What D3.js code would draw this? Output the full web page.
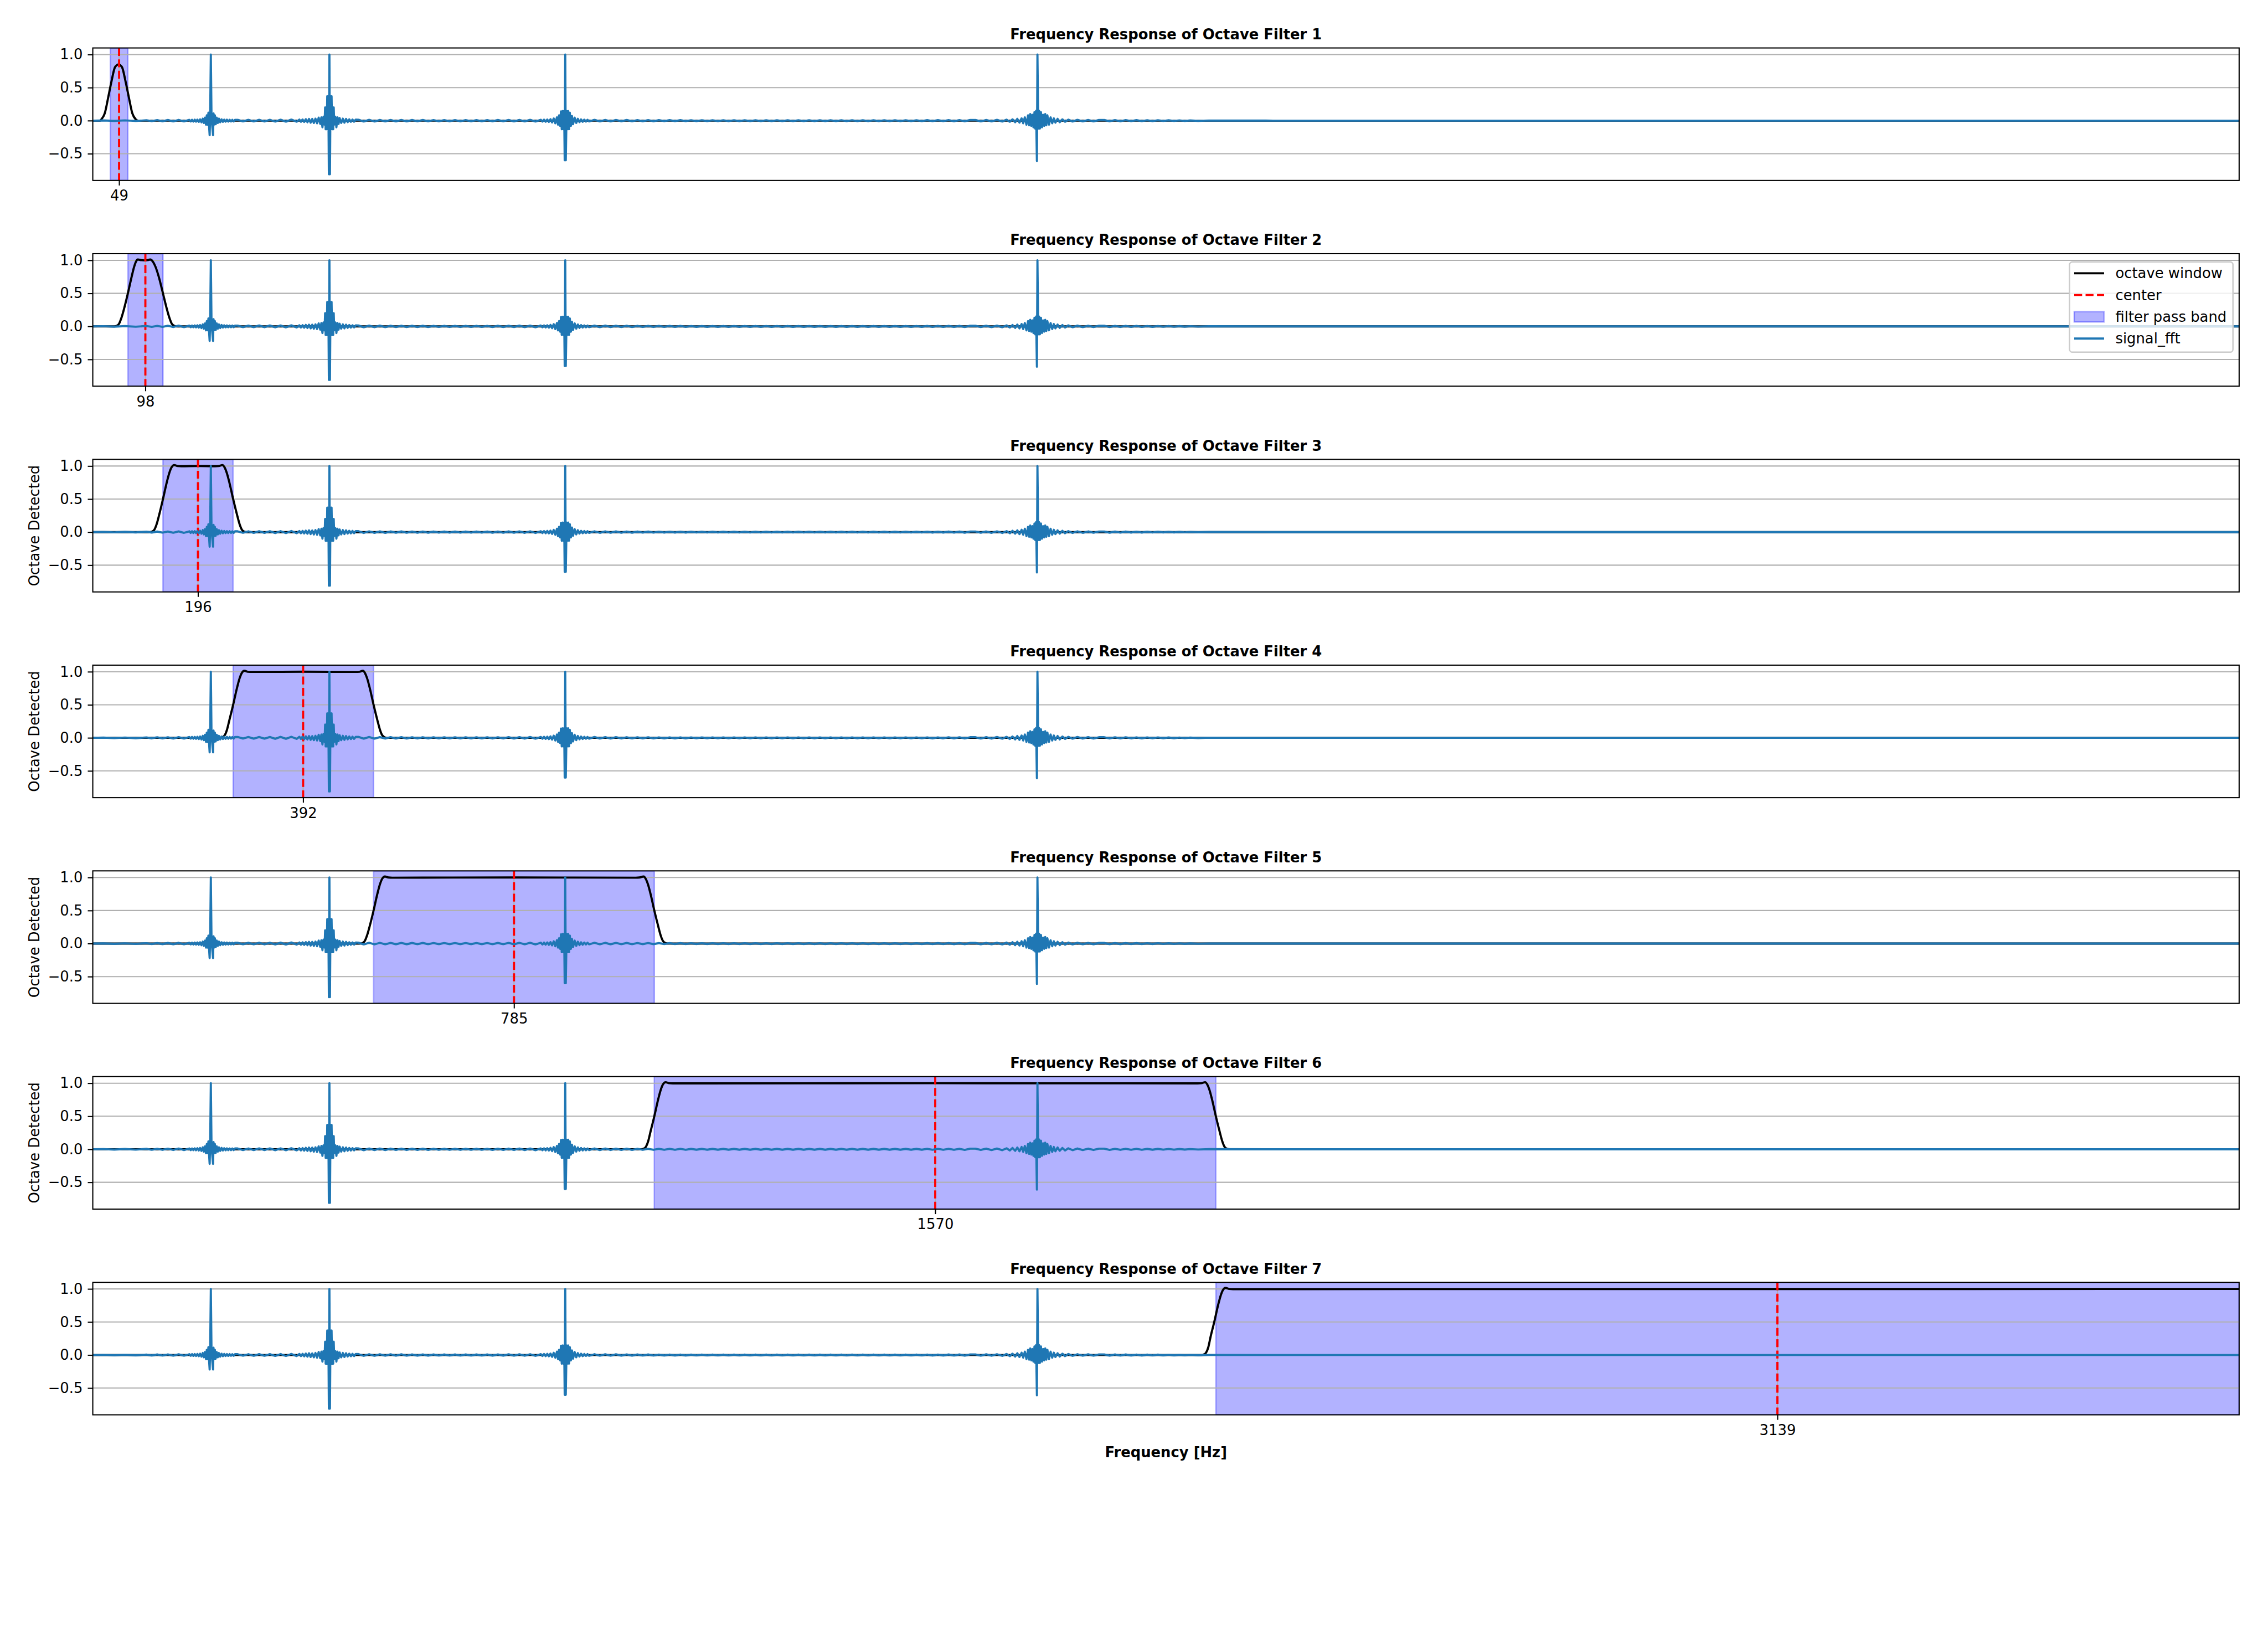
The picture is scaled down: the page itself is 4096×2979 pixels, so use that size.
<!DOCTYPE html>
<html><head><meta charset="utf-8">
<script src="https://cdn.jsdelivr.net/npm/d3@7"></script>
<style>body{margin:0;background:#fff} text{font-family:"DejaVu Sans",sans-serif}</style>
</head><body><svg id="c" width="4096" height="2979"></svg>
<script>
// ---------- data ----------
const filterNames = ["Frequency Response of Octave Filter 1","Frequency Response of Octave Filter 2","Frequency Response of Octave Filter 3","Frequency Response of Octave Filter 4","Frequency Response of Octave Filter 5","Frequency Response of Octave Filter 6","Frequency Response of Octave Filter 7"];
const centers = [49, 98, 196, 392, 785, 1570, 3139.5];
const centerLabels = ["49","98","196","392","785","1570","3139"];
const bandLow  = [32.7, 65.4, 130.8, 261.6, 523.3, 1046.5, 2093.0];
const bandHigh = [65.4, 130.8, 261.6, 523.3, 1046.5, 2093.0, 4000];
const yTicks = [-0.5, 0, 0.5, 1.0];
const yTickLabels = ["\u22120.5","0.0","0.5","1.0"];
const yLabelPanels = [2,3,4,5];
const xDomain = [0, 4000];
const yDomain = [-0.905, 1.1];
const legendLabels = ["octave window","center","filter pass band","signal_fft"];

// octave window responses [Hz, gain]
const window1 = [[0,0],[10,0],[14,0],[16,0.02],[22.3,0.11],[28.7,0.35],[35,0.6],[41.5,0.81],[48,0.85],[54.4,0.81],[60.9,0.6],[67.3,0.35],[73.7,0.11],[80,0.02],[84,0],[4000,0]];
const window2 = [[0,0],[40,0],[45,0.01],[49,0.04],[53,0.12],[58.4,0.27],[65.4,0.5],[72.4,0.75],[77,0.9],[80.5,0.98],[84,1.012],[90,1.002],[96,0.998],[102,1.002],[107,1.012],[112,0.98],[117,0.9],[123,0.75],[130.8,0.5],[137.8,0.27],[143.2,0.12],[147.2,0.04],[151.2,0.01],[156,0],[4000,0]];
const window3 = [[0,0],[106,0],[111,0.01],[115,0.04],[119,0.12],[124,0.27],[130.8,0.5],[137.8,0.75],[142.8,0.9],[146.8,0.98],[151.8,1.015],[158,1.0],[165,0.997],[196,1.0],[228,0.997],[235,1.0],[241.6,1.015],[245.6,0.98],[249.6,0.9],[254.6,0.75],[261.6,0.5],[268.6,0.27],[273.6,0.12],[277.6,0.04],[281.6,0.01],[287,0],[4000,0]];
const window4 = [[0,0],[237,0],[242,0.01],[246,0.04],[250,0.12],[254.6,0.27],[261.6,0.5],[268.6,0.75],[273.6,0.9],[277.6,0.98],[282.6,1.015],[289,1.0],[296,0.997],[392,1.0],[490,0.997],[497,1.0],[503.3,1.015],[507.3,0.98],[511.3,0.9],[516.3,0.75],[523.3,0.5],[530.3,0.27],[535.3,0.12],[539.3,0.04],[543.3,0.01],[548,0],[4000,0]];
const window5 = [[0,0],[498,0],[503,0.01],[507,0.04],[511,0.12],[516.3,0.27],[523.3,0.5],[530.3,0.75],[535.3,0.9],[539.3,0.98],[544.3,1.015],[551,1.0],[558,0.997],[785,1.0],[1012,0.997],[1019,1.0],[1026.5,1.015],[1030.5,0.98],[1034.5,0.9],[1039.5,0.75],[1046.5,0.5],[1053.5,0.27],[1058.5,0.12],[1062.5,0.04],[1066.5,0.01],[1072,0],[4000,0]];
const window6 = [[0,0],[1022,0],[1027,0.01],[1031,0.04],[1035,0.12],[1039.5,0.27],[1046.5,0.5],[1053.5,0.75],[1058.5,0.9],[1062.5,0.98],[1067.5,1.015],[1074,1.0],[1081,0.997],[1570,1.0],[2059,0.997],[2066,1.0],[2073,1.015],[2077,0.98],[2081,0.9],[2086,0.75],[2093,0.5],[2100,0.27],[2105,0.12],[2109,0.04],[2113,0.01],[2119,0],[4000,0]];
const window7 = [[0,0],[2066,0],[2071,0.01],[2075,0.04],[2079,0.12],[2083,0.27],[2090,0.5],[2097,0.75],[2102,0.9],[2106,0.98],[2111,1.015],[2118,1.0],[2125,0.997],[4000,1.0]];
const windows = [window1, window2, window3, window4, window5, window6, window7];

// signal_fft [Hz, value]
const fftBaseline = [[0,0],[20,0.003],[40,-0.004],[60,0.004],[80,-0.005],[100,0.006],[110,-0.007],[120,0.008],[130,-0.008],[140,0.009],[150,-0.01],[160,0.011],[170,-0.011],
  [270,0.012],[280,-0.011],[290,0.012],[300,-0.012],[310,0.013],[320,-0.012],[330,0.013],[340,-0.014],[350,0.014],[360,-0.015],[370,0.016],[380,-0.016],
  [495,0.014],[505,-0.013],[515,0.012],[525,-0.012],[535,0.011],[545,-0.011],[555,0.01],[565,-0.01],[575,0.01],[585,-0.01],[595,0.009],[605,-0.009],[615,0.009],[625,-0.009],[635,0.008],[645,-0.008],[655,0.008],[665,-0.008],[675,0.008],[685,-0.008],[695,0.008],[705,-0.008],[715,0.008],[725,-0.008],[735,0.008],[745,-0.009],[755,0.009],[765,-0.009],[775,0.01],[785,-0.01],[795,0.011],[805,-0.011],[815,0.012],[825,-0.013],
  [935,0.012],[945,-0.011],[955,0.011],[965,-0.01],[975,0.01],[985,-0.009],[995,0.009],[1005,-0.009],[1015,0.008],[1025,-0.008],[1035,0.008],[1045,-0.008],[1055,0.007],[1065,-0.007],[1075,0.007],[1085,-0.007],[1095,0.007],[1105,-0.007],[1115,0.006],[1125,-0.006],[1135,0.006],[1145,-0.006],[1155,0.006],[1165,-0.006],[1175,0.006],[1185,-0.006],[1195,0.006],[1205,-0.006],[1215,0.006],[1225,-0.006],[1235,0.006],[1245,-0.006],[1255,0.006],[1265,-0.006],[1275,0.006],[1285,-0.006],[1295,0.006],[1305,-0.006],[1315,0.006],[1325,-0.006],[1335,0.006],[1345,-0.006],[1355,0.006],[1365,-0.006],[1375,0.006],[1385,-0.006],[1395,0.006],[1405,-0.006],[1415,0.006],[1425,-0.006],[1435,0.006],[1445,-0.006],[1455,0.006],[1465,-0.006],[1475,0.006],[1485,-0.006],[1495,0.006],[1505,-0.006],[1515,0.006],[1525,-0.006],[1535,0.006],[1545,-0.006],[1555,0.007],[1565,-0.007],[1575,0.007],[1585,-0.007],[1595,0.008],[1605,-0.008],[1615,0.008],[1625,-0.009],[1635,0.009],
  [1885,0.009],[1895,-0.009],[1905,0.008],[1915,-0.008],[1925,0.008],[1935,-0.007],[1945,0.007],[1955,-0.007],[1965,0.006],[1975,-0.006],[1985,0.006],[1995,-0.005],[2005,0.005],[2015,-0.005],[2025,0.004],[2035,-0.004],[2045,0.003],[2060,-0.003],[2080,0.002],[2200,0],[4000,0]];
const toneA3 = [[180,0.012],[182.5,-0.012],[185,0.013],[187.5,-0.013],[190,0.014],[192.5,-0.015],[195,0.016],[197.5,-0.018],[200,0.02],[202.5,-0.024],[205,0.03],[207,-0.035],[209,0.045],[211,-0.06],[212.5,0.08],[214,-0.06],[215.5,0.12],[216.5,-0.05],[217.8,-0.22],[218.8,0.1],[220,1.0],[221.2,0.1],[222.2,-0.05],[224.2,-0.22],[225,0.11],[226,-0.06],[227.5,0.08],[229,-0.055],[231,0.045],[233,-0.035],[235,0.03],[237.5,-0.024],[240,0.02],[242.5,-0.018],[245,0.016],[247.5,-0.015],[250,0.014],[252.5,-0.013],[255,0.013],[257.5,-0.012],[260,0.012],[262.5,-0.012],[265,0.012]];
const toneA4 = [[385,0.016],[388,-0.017],[391,0.018],[394,-0.02],[397,0.022],[400,-0.024],[403,0.026],[406,-0.03],[409,0.025],[412,-0.035],[415,0.03],[418,-0.04],[421,0.045],[424,-0.05],[426,0.05],[428,-0.1],[430,0.06],[432,-0.06],[433,0.2],[434,-0.13],[435,0.2],[436,-0.13],[437,0.37],[438,-0.13],[439,0.37],[440,-0.81],[441,1.0],[442,-0.81],[443,0.37],[444,-0.13],[445,0.37],[446,-0.13],[447,0.2],[448,-0.13],[449,0.2],[450,-0.06],[452,0.06],[454,-0.1],[456,0.05],[458,-0.05],[460,0.04],[463,-0.035],[466,0.03],[469,-0.03],[472,0.026],[475,-0.022],[478,0.02],[481,-0.018],[484,0.017],[487,-0.016],[490,0.015]];
const toneA5 = [[835,0.013],[838,-0.014],[841,0.015],[844,-0.016],[847,0.017],[850,-0.019],[853,0.022],[856,-0.027],[859,0.033],[862,-0.04],[865,0.05],[867,-0.06],[869,0.08],[871,-0.08],[872.5,0.14],[874,-0.13],[875.5,0.145],[877,-0.13],[878.5,0.145],[879.5,-0.6],[880.5,1.0],[881.5,-0.6],[883,0.145],[884.5,-0.13],[886,0.145],[887.5,-0.13],[889,0.12],[891,-0.08],[893,0.07],[895,-0.055],[898,0.045],[901,-0.035],[904,0.028],[907,-0.022],[910,0.019],[913,-0.017],[916,0.015],[919,-0.014],[922,0.013],[925,-0.012]];
const toneA6 = [[1645,0.009],[1655,-0.01],[1665,0.01],[1675,-0.011],[1685,0.012],[1695,-0.013],[1703,0.015],[1709,-0.017],[1714,0.02],[1719,-0.023],[1723,0.027],[1727,-0.03],[1731,0.035],[1734,-0.04],[1737,0.05],[1740,-0.06],[1743,0.08],[1745,-0.07],[1747,0.1],[1749,-0.08],[1751,0.09],[1753,-0.1],[1755,0.13],[1756.5,-0.12],[1758,0.15],[1759.5,-0.61],[1760.5,1.0],[1762,-0.12],[1763.5,0.15],[1765,-0.12],[1767,0.13],[1769,-0.1],[1771,0.09],[1773,-0.08],[1775,0.1],[1777,-0.07],[1779,0.08],[1782,-0.06],[1785,0.05],[1788,-0.04],[1791,0.035],[1794,-0.03],[1798,0.027],[1802,-0.023],[1807,0.02],[1812,-0.017],[1818,0.015],[1826,-0.013],[1835,0.012],[1845,-0.011],[1855,0.01],[1865,-0.01],[1875,0.009]];

// ---------- layout (reference px, scaled to window) ----------
const S = 4096/4400;
const PT = 200/72;            // px per point in reference
const FS = 10*PT;             // font size
const LW = 1.5*PT;            // line width
const left = 180, right = 4344, top0 = 93, pitch = 399, ph = 257;

const svg = d3.select("#c");
const root = svg.append("g").attr("transform", `scale(${S})`);
root.append("rect").attr("width",4400).attr("height",3200).attr("fill","#fff");

const signal = fftBaseline.concat(toneA3, toneA4, toneA5, toneA6).sort((a,b)=>a[0]-b[0]);

const x = d3.scaleLinear().domain(xDomain).range([left, right]);

windows.forEach((win, i) => {
  const top = top0 + i*pitch;
  const y = d3.scaleLinear().domain(yDomain).range([top+ph, top]);
  const g = root.append("g");
  const clipId = "clip"+i;
  g.append("clipPath").attr("id", clipId).append("rect")
    .attr("x", left).attr("y", top).attr("width", right-left).attr("height", ph);
  const pg = g.append("g").attr("clip-path", `url(#${clipId})`);

  // pass band
  pg.append("rect")
    .attr("x", x(bandLow[i])).attr("y", top)
    .attr("width", x(bandHigh[i]) - x(bandLow[i])).attr("height", ph)
    .attr("fill", "rgba(0,0,255,0.3)")
    .attr("stroke", "rgba(0,0,255,0.3)").attr("stroke-width", PT);

  // grid
  pg.selectAll(".gy").data(yTicks).enter().append("line")
    .attr("x1", left).attr("x2", right)
    .attr("y1", d=>y(d)).attr("y2", d=>y(d))
    .attr("stroke", "#b0b0b0").attr("stroke-width", 0.8*PT);
  pg.append("line")
    .attr("x1", x(centers[i])).attr("x2", x(centers[i]))
    .attr("y1", top).attr("y2", top+ph)
    .attr("stroke", "#b0b0b0").attr("stroke-width", 0.8*PT);

  const line = d3.line().x(d=>x(d[0])).y(d=>y(d[1]));
  // octave window
  pg.append("path").datum(win)
    .attr("d", line.curve(d3.curveMonotoneX))
    .attr("fill","none").attr("stroke","#000").attr("stroke-width", LW)
    .attr("stroke-linejoin","round");
  // center
  pg.append("line")
    .attr("x1", x(centers[i])).attr("x2", x(centers[i]))
    .attr("y1", top).attr("y2", top+ph)
    .attr("stroke", "#ff0000").attr("stroke-width", LW)
    .attr("stroke-dasharray", `${3.7*LW} ${1.6*LW}`);
  // signal_fft
  pg.append("path").datum(signal)
    .attr("d", d3.line().x(d=>x(d[0])).y(d=>y(d[1])))
    .attr("fill","none").attr("stroke","#1f77b4").attr("stroke-width", LW)
    .attr("stroke-linejoin","round").attr("stroke-linecap","round");

  // axes
  const yAxis = d3.axisLeft(y).tickValues(yTicks).tickFormat((d,k)=>yTickLabels[k])
    .tickSize(3.5*PT).tickPadding(3.5*PT);
  const ya = g.append("g").attr("transform", `translate(${left},0)`).call(yAxis);
  const xAxis = d3.axisBottom(x).tickValues([centers[i]]).tickFormat(()=>centerLabels[i])
    .tickSize(3.5*PT).tickPadding(3.5*PT);
  const xa = g.append("g").attr("transform", `translate(0,${top+ph})`).call(xAxis);
  [ya, xa].forEach(a => {
    a.select(".domain").remove();
    a.selectAll("line").attr("stroke","#000").attr("stroke-width", 0.8*PT);
    a.selectAll("text").attr("font-size", FS).attr("fill","#000")
      .attr("font-family", "DejaVu Sans");
  });

  // frame
  g.append("rect").attr("x", left).attr("y", top).attr("width", right-left).attr("height", ph)
    .attr("fill","none").attr("stroke","#000").attr("stroke-width", 0.8*PT);

  // title
  g.append("text").attr("x", (left+right)/2).attr("y", top - 6*PT)
    .attr("text-anchor","middle").attr("font-size", FS).attr("font-weight","bold")
    .text(filterNames[i]);

  if (yLabelPanels.includes(i)) {
    g.append("text").attr("transform", `translate(66,${top+ph/2}) rotate(-90)`)
      .attr("text-anchor","middle").attr("dy","0.35em").attr("font-size", FS)
      .text("Octave Detected");
  }

  if (i === 1) {
    const lx = 4015, ly = 508, lw = 317, lh = 175;
    const lg = g.append("g");
    lg.append("rect").attr("x", lx).attr("y", ly).attr("width", lw).attr("height", lh)
      .attr("rx", 0.2*FS).attr("fill","rgba(255,255,255,0.8)")
      .attr("stroke","#cccccc").attr("stroke-width", PT);
    const rowY = k => 530 + k*42.2;
    const hx0 = 4024, hx1 = 4082;
    lg.append("line").attr("x1",hx0).attr("x2",hx1).attr("y1",rowY(0)).attr("y2",rowY(0))
      .attr("stroke","#000").attr("stroke-width",LW);
    lg.append("line").attr("x1",hx0).attr("x2",hx1).attr("y1",rowY(1)).attr("y2",rowY(1))
      .attr("stroke","#ff0000").attr("stroke-width",LW).attr("stroke-dasharray", `${3.7*LW} ${1.6*LW}`);
    lg.append("rect").attr("x",hx0).attr("y",rowY(2)-10).attr("width",hx1-hx0).attr("height",20)
      .attr("fill","rgba(0,0,255,0.3)").attr("stroke","rgba(0,0,255,0.3)").attr("stroke-width",PT);
    lg.append("line").attr("x1",hx0).attr("x2",hx1).attr("y1",rowY(3)).attr("y2",rowY(3))
      .attr("stroke","#1f77b4").attr("stroke-width",LW);
    legendLabels.forEach((t,k) => {
      lg.append("text").attr("x", 4104).attr("y", rowY(k)).attr("dy","0.35em")
        .attr("font-size", FS).text(t);
    });
  }
});

root.append("text").attr("x", (left+right)/2).attr("y", 2826)
  .attr("text-anchor","middle").attr("font-size", FS).attr("font-weight","bold")
  .text("Frequency [Hz]");
</script></body></html>
